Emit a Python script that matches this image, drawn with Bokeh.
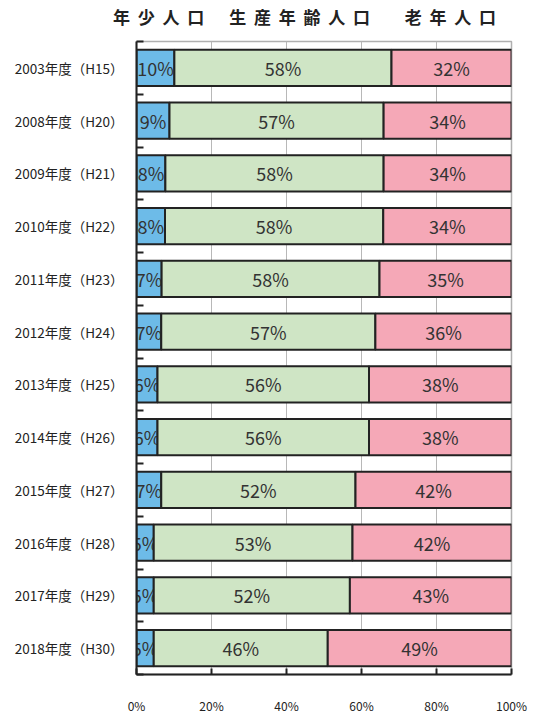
from bokeh.plotting import figure
from bokeh.models import Range1d, FixedTicker, LinearAxis, ColumnDataSource
from bokeh.core.properties import value
from bokeh.embed import file_html
from bokeh.resources import INLINE

# ---- data ----
categories = ["2003年度（H15）", "2008年度（H20）", "2009年度（H21）", "2010年度（H22）",
              "2011年度（H23）", "2012年度（H24）", "2013年度（H25）", "2014年度（H26）",
              "2015年度（H27）", "2016年度（H28）", "2017年度（H29）", "2018年度（H30）"]
young = [10.1, 8.8, 7.7, 7.6, 6.7, 6.6, 5.6, 5.6, 6.6, 4.6, 4.6, 4.6]
working = [57.9, 57.1, 58.2, 58.2, 58.1, 57.1, 56.4, 56.4, 51.8, 53.0, 52.3, 46.4]
elderly = [32.0, 34.1, 34.1, 34.2, 35.2, 36.3, 38.0, 38.0, 41.6, 42.4, 43.1, 49.0]
series_names = ["年少人口", "生産年齢人口", "老年人口"]
x_ticks = [0, 20, 40, 60, 80, 100]
x_tick_labels = ["0%", "20%", "40%", "60%", "80%", "100%"]

colors = ["#6dbbe8", "#cfe5c5", "#f5a8b7"]
FONT = "Noto Sans CJK JP"

n = len(categories)
ypos = [n - i - 0.5 for i in range(n)]

p = figure(width=534, height=716, output_backend="svg", toolbar_location=None,
           x_range=Range1d(0, 100), y_range=Range1d(0, n),
           min_border_left=136, min_border_right=23, min_border_top=30, min_border_bottom=39)
p.background_fill_color = "white"
p.border_fill_color = "white"
p.outline_line_color = "#b0b0b0"
p.outline_line_width = 1.5

# grid
p.ygrid.grid_line_color = None
p.xgrid.ticker = FixedTicker(ticks=x_ticks)
p.xgrid.grid_line_color = "#b8b8b8"
p.xgrid.grid_line_width = 1

# bars
series = [young, working, elderly]
left = [0.0] * n
for vals, col in zip(series, colors):
    right = [l + v for l, v in zip(left, vals)]
    src = ColumnDataSource(dict(y=ypos, left=left, right=right,
                                cx=[(l + r) / 2 for l, r in zip(left, right)],
                                lab=[f"{round(v)}%" for v in vals]))
    p.hbar(y="y", left="left", right="right", height=0.685, source=src,
           fill_color=col, line_color="#222222", line_width=2)
    p.text(x="cx", y="y", text="lab", source=src, text_align="center",
           text_baseline="middle", text_font=value(FONT), text_font_size="18px",
           text_color="#333333")
    left = right

# x axis
xa = p.xaxis[0]
xa.ticker = FixedTicker(ticks=x_ticks)
xa.major_label_overrides = {t: s for t, s in zip(x_ticks, x_tick_labels)}
xa.axis_line_color = "#222222"
xa.axis_line_width = 2
xa.major_tick_in = 6
xa.major_tick_out = 0
xa.major_tick_line_color = "#222222"
xa.major_tick_line_width = 2
xa.minor_tick_line_color = None
xa.major_label_standoff = 22
xa.major_label_text_font = FONT
xa.major_label_text_font_size = "12px"
xa.major_label_text_color = "#222222"

# y axis
ya = p.yaxis[0]
ya.ticker = FixedTicker(ticks=ypos, minor_ticks=list(range(n + 1)))
ya.major_label_overrides = {y: c for y, c in zip(ypos, categories)}
ya.axis_line_color = "#222222"
ya.axis_line_width = 2
ya.major_tick_line_color = None
ya.major_tick_in = 0
ya.major_tick_out = 0
ya.minor_tick_in = 7
ya.minor_tick_out = 0
ya.minor_tick_line_color = "#222222"
ya.minor_tick_line_width = 2
ya.major_label_standoff = 13
ya.major_label_text_font = FONT
ya.major_label_text_font_size = "13.5px"
ya.major_label_text_color = "#222222"

# series headers as an axis above the frame
header_x = [5.9, 43.5, 83.7]
gap = "\u00a0\u00a0"
top = LinearAxis(ticker=FixedTicker(ticks=header_x),
                 major_label_overrides={hx: gap.join(nm) for hx, nm in zip(header_x, series_names)},
                 axis_line_color=None, major_tick_line_color=None, minor_tick_line_color=None,
                 major_label_standoff=7, major_label_text_font=FONT,
                 major_label_text_font_size="17px", major_label_text_font_style="bold",
                 major_label_text_color="#222222")
p.add_layout(top, "above")

open("out.html", "w").write(file_html(p, INLINE))
